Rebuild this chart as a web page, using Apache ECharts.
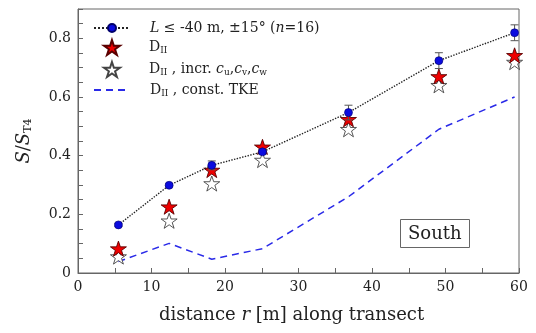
<!DOCTYPE html>
<html>
<head>
<meta charset="utf-8">
<script src="https://cdn.jsdelivr.net/npm/echarts@6/dist/echarts.min.js"></script>
<style>html,body{margin:0;padding:0;background:#fff;}#c{width:536px;height:333px;}</style>
</head>
<body>
<div id="c"></div>
<script>
// distance r [m] along transect
const r = [5.5, 12.4, 18.2, 25.1, 36.8, 49.1, 59.4];
// observed S/S_T4, L <= -40 m, +-15 deg (n=16)
const obs = [0.164, 0.299, 0.367, 0.413, 0.547, 0.724, 0.819];
const obsErr = [0.005, 0.005, 0.015, 0.008, 0.025, 0.027, 0.027];
// D_II
const dII = [0.083, 0.226, 0.351, 0.430, 0.524, 0.670, 0.742];
// D_II, incr. c_u, c_v, c_w
const dIIincr = [0.056, 0.178, 0.305, 0.385, 0.490, 0.640, 0.719];
// D_II, const. TKE
const dIItke = [0.039, 0.101, 0.047, 0.083, 0.260, 0.490, 0.600];
const xTicks = [0, 10, 20, 30, 40, 50, 60];
const yTicks = [0, 0.2, 0.4, 0.6, 0.8];

const FONT = 'DejaVu Serif';
const star = 'path://M50,0 L61.8,35.1 L98.9,35.1 L68.9,56.9 L80.3,92.1 L50,70.4 L19.7,92.1 L31.1,56.9 L1.1,35.1 L38.2,35.1 Z';

const names = {
  obs: '{i|L} ≤ -40 m, ±15° ({i|n}=16)',
  dII: 'D{sub|II}',
  incr: 'D{sub|II} , incr. {i|c}{sub|u},{i|c}{sub|v},{i|c}{sub|w}',
  tke: 'D{sub|II} , const. TKE'
};
const richLegend = {
  i: {fontFamily: FONT, fontStyle: 'italic', fontSize: 14, color: '#222'},
  sub: {fontFamily: FONT, fontSize: 9, color: '#222', padding: [7, 0, 0, 0]}
};
const mkLegend = (items, left, top, h, gap, textPad) => ({
  orient: 'vertical', left: left, top: top, padding: 0, itemWidth: 36, itemHeight: h, itemGap: gap,
  data: items, formatter: (n) => names[n], selectedMode: false,
  textStyle: {fontFamily: FONT, fontSize: 14, color: '#222', padding: [0, 0, 0, textPad], rich: richLegend}
});

const pairs = (ys) => r.map((x, i) => [x, ys[i]]);
const errData = r.map((x, i) => [x, obs[i] - obsErr[i], obs[i] + obsErr[i]]);

const chart = echarts.init(document.getElementById('c'), null, {renderer: 'canvas'});
chart.setOption({
  animation: false,
  backgroundColor: '#fff',
  textStyle: {fontFamily: FONT},
  grid: {left: 78, right: 17, top: 9, bottom: 60, show: true, borderColor: '#666', borderWidth: 1},
  title: {
    text: 'South', left: 400, top: 219,
    borderColor: '#666', borderWidth: 1, padding: [6, 8, 5, 8],
    textStyle: {fontFamily: FONT, fontSize: 18, fontWeight: 'normal', color: '#222'}
  },
  legend: [
    mkLegend([{name: 'obs'}], 93, 21, 10, 5, 15),
    mkLegend([{name: 'dII'}, {name: 'incr'}], 103, 39, 15, 5, 14),
    mkLegend([{name: 'tke', itemStyle: {opacity: 0}}], 93, 83, 10, 5, 15)
  ],
  xAxis: {
    type: 'value', min: 0, max: 60, interval: 10,
    name: 'distance {i|r} [m] along transect', nameLocation: 'middle', nameGap: 33,
    nameTextStyle: {fontFamily: FONT, fontSize: 18, color: '#222', padding: [0, 14, 0, 0],
      rich: {i: {fontFamily: FONT, fontSize: 18, fontStyle: 'italic', color: '#222'}}},
    axisLine: {show: true, lineStyle: {color: '#666'}},
    axisTick: {show: true, inside: true, length: 5, lineStyle: {color: '#666'}},
    minorTick: {show: true, splitNumber: 2, length: 5, lineStyle: {color: '#666'}},
    splitLine: {show: false},
    axisLabel: {fontFamily: FONT, fontSize: 14, color: '#222', margin: 7,
      formatter: (v) => xTicks.includes(v) ? String(v) : ''}
  },
  yAxis: {
    type: 'value', min: 0, max: 0.9, interval: 0.2,
    name: '{i|S}/{i|S}{sub|T4}', nameLocation: 'middle', nameGap: 44,
    nameTextStyle: {fontFamily: FONT, fontSize: 18, color: '#222',
      rich: {i: {fontFamily: FONT, fontSize: 18, fontStyle: 'italic', color: '#222'},
             sub: {fontFamily: FONT, fontSize: 11, color: '#222', padding: [8, 0, 0, 0]}}},
    axisLine: {show: true, lineStyle: {color: '#666'}},
    axisTick: {show: true, inside: true, length: 5, lineStyle: {color: '#666'}},
    minorTick: {show: true, splitNumber: 4, length: 5, lineStyle: {color: '#666'}},
    splitLine: {show: false},
    axisLabel: {fontFamily: FONT, fontSize: 14, color: '#222', margin: 7, showMaxLabel: false,
      formatter: (v) => {
        const t = yTicks.find(k => Math.abs(k - v) < 1e-9);
        return t === undefined ? '' : (t === 0 ? '0' : t.toFixed(1));
      }}
  },
  series: [
    {
      name: 'tke', type: 'line', data: pairs(dIItke), symbol: 'none', z: 1,
      lineStyle: {color: '#2a2ae8', width: 1.5, type: [7, 5]},
      itemStyle: {color: '#2a2ae8'}
    },
    {
      name: 'incr', type: 'scatter', data: pairs(dIIincr), symbol: star, symbolSize: 16, symbolKeepAspect: true, z: 2,
      itemStyle: {color: '#ffffff', borderColor: '#444', borderWidth: 0.9, opacity: 1}
    },
    {
      name: 'dII', type: 'scatter', data: pairs(dII), symbol: star, symbolSize: 16, symbolKeepAspect: true, z: 3,
      itemStyle: {color: '#ee0000', borderColor: '#5a0000', borderWidth: 0.9, opacity: 1}
    },
    {
      name: 'err', type: 'custom', data: errData, z: 4,
      renderItem: (params, api) => {
        const x = api.value(0);
        const lo = api.coord([x, api.value(1)]);
        const hi = api.coord([x, api.value(2)]);
        const w = 4;
        const st = {stroke: '#555', lineWidth: 1};
        return {type: 'group', children: [
          {type: 'line', shape: {x1: lo[0], y1: lo[1], x2: hi[0], y2: hi[1]}, style: st},
          {type: 'line', shape: {x1: lo[0] - w, y1: lo[1], x2: lo[0] + w, y2: lo[1]}, style: st},
          {type: 'line', shape: {x1: hi[0] - w, y1: hi[1], x2: hi[0] + w, y2: hi[1]}, style: st}
        ]};
      }
    },
    {
      name: 'obs', type: 'line', data: pairs(obs), symbol: 'circle', symbolSize: 8, z: 5,
      lineStyle: {color: '#222', width: 1.4, type: 'dotted'},
      itemStyle: {color: '#0b0bdf', borderColor: '#00006a', borderWidth: 0.6}
    }
  ]
});
</script>
</body>
</html>
